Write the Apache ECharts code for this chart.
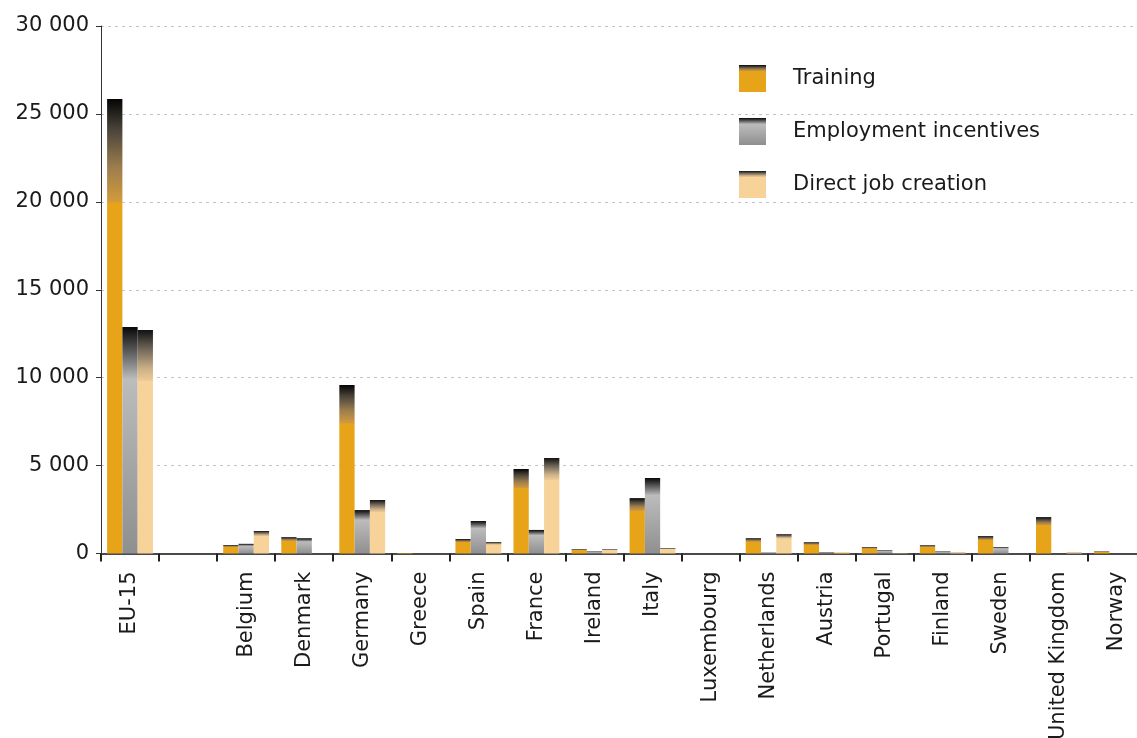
<!DOCTYPE html>
<html>
<head>
<meta charset="utf-8">
<title>Expenditure by type of measure</title>
<script src="https://cdn.jsdelivr.net/npm/echarts@6/dist/echarts.min.js"></script>
<style>
  html, body { margin: 0; padding: 0; background: #fff; }
  #chart { width: 1137px; height: 738px; }
</style>
</head>
<body>
<div id="chart"></div>
<script>
// Categories (an empty slot separates the EU-15 total from the countries)
const categories = ['EU-15', '', 'Belgium', 'Denmark', 'Germany', 'Greece', 'Spain', 'France',
  'Ireland', 'Italy', 'Luxembourg', 'Netherlands', 'Austria', 'Portugal', 'Finland',
  'Sweden', 'United Kingdom', 'Norway'];

const training = [25850, null, 480, 930, 9580, 30, 825, 4800, 250, 3150, 0, 870, 640, 360, 470, 990, 2070, 130];
const employmentIncentives = [12880, null, 550, 870, 2470, 0, 1850, 1340, 130, 4290, 0, 70, 60, 190, 130, 360, 0, 0];
const directJobCreation = [12710, null, 1280, 0, 3040, 0, 650, 5430, 250, 300, 0, 1100, 80, 20, 70, 0, 70, 0];

const seriesNames = ['Training', 'Employment incentives', 'Direct job creation'];
const yTicks = [0, 5000, 10000, 15000, 20000, 25000, 30000];

const FONT = '"DejaVu Sans", Verdana, sans-serif';

// Vertical fill: dark cap fading into the base colour over the top part of each bar
function capGradient(stops) {
  return new echarts.graphic.LinearGradient(0, 0, 0, 1, stops);
}
const fills = [
  capGradient([
    { offset: 0, color: '#050505' },
    { offset: 0.07, color: '#4d463c' },
    { offset: 0.15, color: '#9c7d4e' },
    { offset: 0.225, color: '#d29a3c' },
    { offset: 0.23, color: '#e8a418' },
    { offset: 1, color: '#e8a418' }
  ]),
  capGradient([
    { offset: 0, color: '#080808' },
    { offset: 0.1, color: '#555555' },
    { offset: 0.23, color: '#bcbcbc' },
    { offset: 1, color: '#8f8f8f' }
  ]),
  capGradient([
    { offset: 0, color: '#111111' },
    { offset: 0.08, color: '#6a6256' },
    { offset: 0.17, color: '#c9ae86' },
    { offset: 0.225, color: '#ecca95' },
    { offset: 0.23, color: '#f7d39a' },
    { offset: 1, color: '#f7d39a' }
  ])
];

const values = [training, employmentIncentives, directJobCreation];

const chart = echarts.init(document.getElementById('chart'), null, { renderer: 'canvas' });

chart.setOption({
  animation: false,
  backgroundColor: '#ffffff',
  textStyle: { fontFamily: FONT },
  // the plot runs slightly past the right edge of the canvas, labels may be clipped
  grid: { left: 101, top: 26, right: -9, bottom: 184.5, containLabel: false, outerBoundsMode: 'none' },
  legend: {
    orient: 'vertical',
    left: 739,
    top: 65,
    padding: 0,
    itemWidth: 27,
    itemHeight: 27,
    itemGap: 26,
    icon: 'rect',
    data: seriesNames,
    textStyle: { fontFamily: FONT, fontSize: 21, color: '#1a1a1a', padding: [0, 0, 0, 22] }
  },
  xAxis: {
    type: 'category',
    data: categories,
    boundaryGap: true,
    axisLine: { show: true, lineStyle: { color: '#4a4a4a', width: 2 } },
    axisTick: { show: true, length: 8, alignWithLabel: false, lineStyle: { color: '#222', width: 2 } },
    axisLabel: {
      rotate: 90,
      interval: 0,
      margin: 18,
      fontFamily: FONT,
      fontSize: 21,
      color: '#1a1a1a'
    },
    splitLine: { show: false }
  },
  yAxis: {
    type: 'value',
    min: yTicks[0],
    max: yTicks[yTicks.length - 1],
    interval: yTicks[1] - yTicks[0],
    axisLine: { show: true, lineStyle: { color: '#333', width: 1 } },
    axisTick: { show: true, length: 5, lineStyle: { color: '#333' } },
    axisLabel: {
      margin: 12,
      fontFamily: FONT,
      fontSize: 21,
      color: '#1a1a1a',
      formatter: v => String(v).replace(/\B(?=(\d{3})+(?!\d))/g, ' ')
    },
    splitLine: { show: true, lineStyle: { color: '#c4c4c4', width: 1, type: [3, 4] } }
  },
  series: seriesNames.map((name, i) => ({
    name,
    type: 'bar',
    data: values[i],
    barGap: '0%',
    barCategoryGap: '21%',
    itemStyle: { color: fills[i] },
    emphasis: { disabled: true }
  }))
});
</script>
</body>
</html>
